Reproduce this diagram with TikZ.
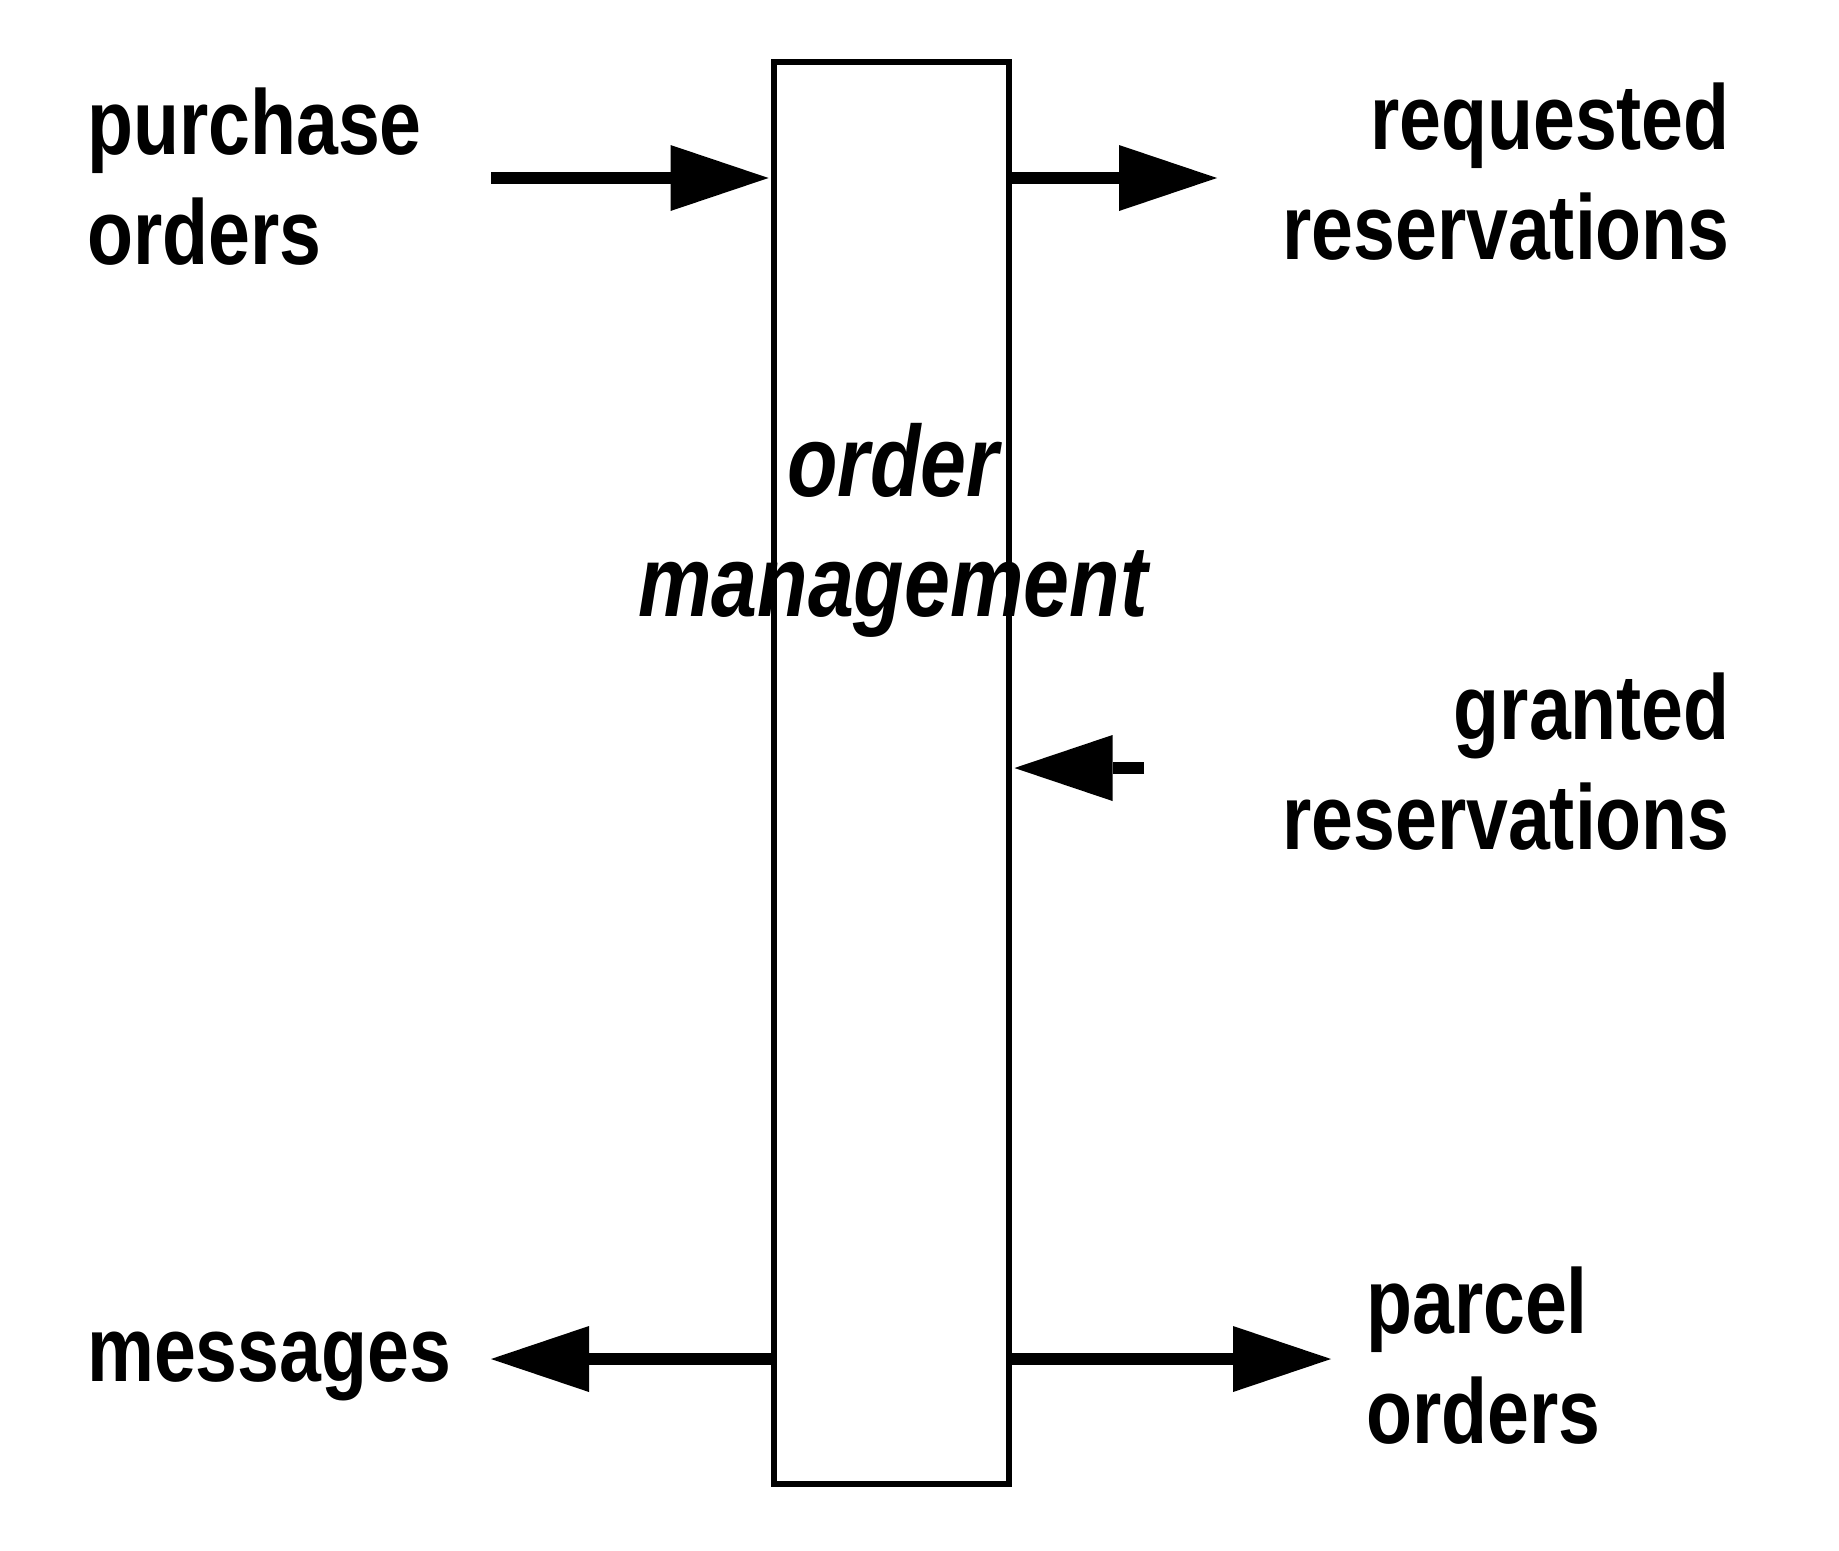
\documentclass[tikz,border=0pt]{standalone}
\usepackage{fontspec}
\setmainfont{Liberation Sans}[FakeStretch=0.818]
\usetikzlibrary{arrows.meta}
\newcommand\lblL[2]{\vtop{\halign{##\hfil\cr#1\cr#2\cr}}}
\newcommand\lblR[2]{\vtop{\halign{\hfil##\cr#1\cr#2\cr}}}
\newcommand\lblC[2]{\vtop{\halign{\hfil##\hfil\cr#1\cr#2\cr}}}
\tikzset{
  lbl/.style={inner sep=0pt, font=\fontsize{92}{110}\selectfont\bfseries},
  midlbl/.style={inner sep=0pt, font=\fontsize{101}{120}\selectfont\bfseries\itshape},
  procbox/.style={draw, line width=5.5pt, inner sep=0pt, minimum width=235pt, minimum height=1422pt},
  flow/.style={line width=12.5pt, -{Triangle[length=98pt, width=66pt, line width=0pt]}}
}
\begin{document}
\begin{tikzpicture}[x=1pt,y=-1pt]
\fill[white] (0,0) rectangle (1839,1550);
\useasboundingbox (0,0) rectangle (1839,1550);
% process box
\node[procbox] (box) at (891.5,773) {};
\node[midlbl, anchor=base] (mid) at (893,496) {\lblC{order}{management}};
% labels
\node[lbl, anchor=base west] (lPO) at (87,154) {\lblL{purchase}{orders}};
\node[lbl, anchor=base east] (lRQ) at (1730,149) {\lblR{requested}{reservations}};
\node[lbl, anchor=base east] (lGR) at (1730,739) {\lblR{granted}{reservations}};
\node[lbl, anchor=base west] (lMS) at (87,1381) {messages};
\node[lbl, anchor=base west] (lPC) at (1366,1333) {\lblL{parcel}{orders}};
% connector ends
\coordinate (cPO) at (491,178);
\coordinate (cRQ) at (1217,178);
\coordinate (cGR) at (1144,768);
\coordinate (cMS) at (491,1359);
\coordinate (cPC) at (1331,1359);
% connectors
\draw[flow] (cPO) -- ([xshift=-2.75pt]cPO -| box.west);
\draw[flow] (cPO -| box.east) -- (cRQ);
\draw[flow] (cGR) -- ([xshift=2.75pt]cGR -| box.east);
\draw[flow] (cMS -| box.west) -- (cMS);
\draw[flow] (cPC -| box.east) -- (cPC);
\end{tikzpicture}
\end{document}
